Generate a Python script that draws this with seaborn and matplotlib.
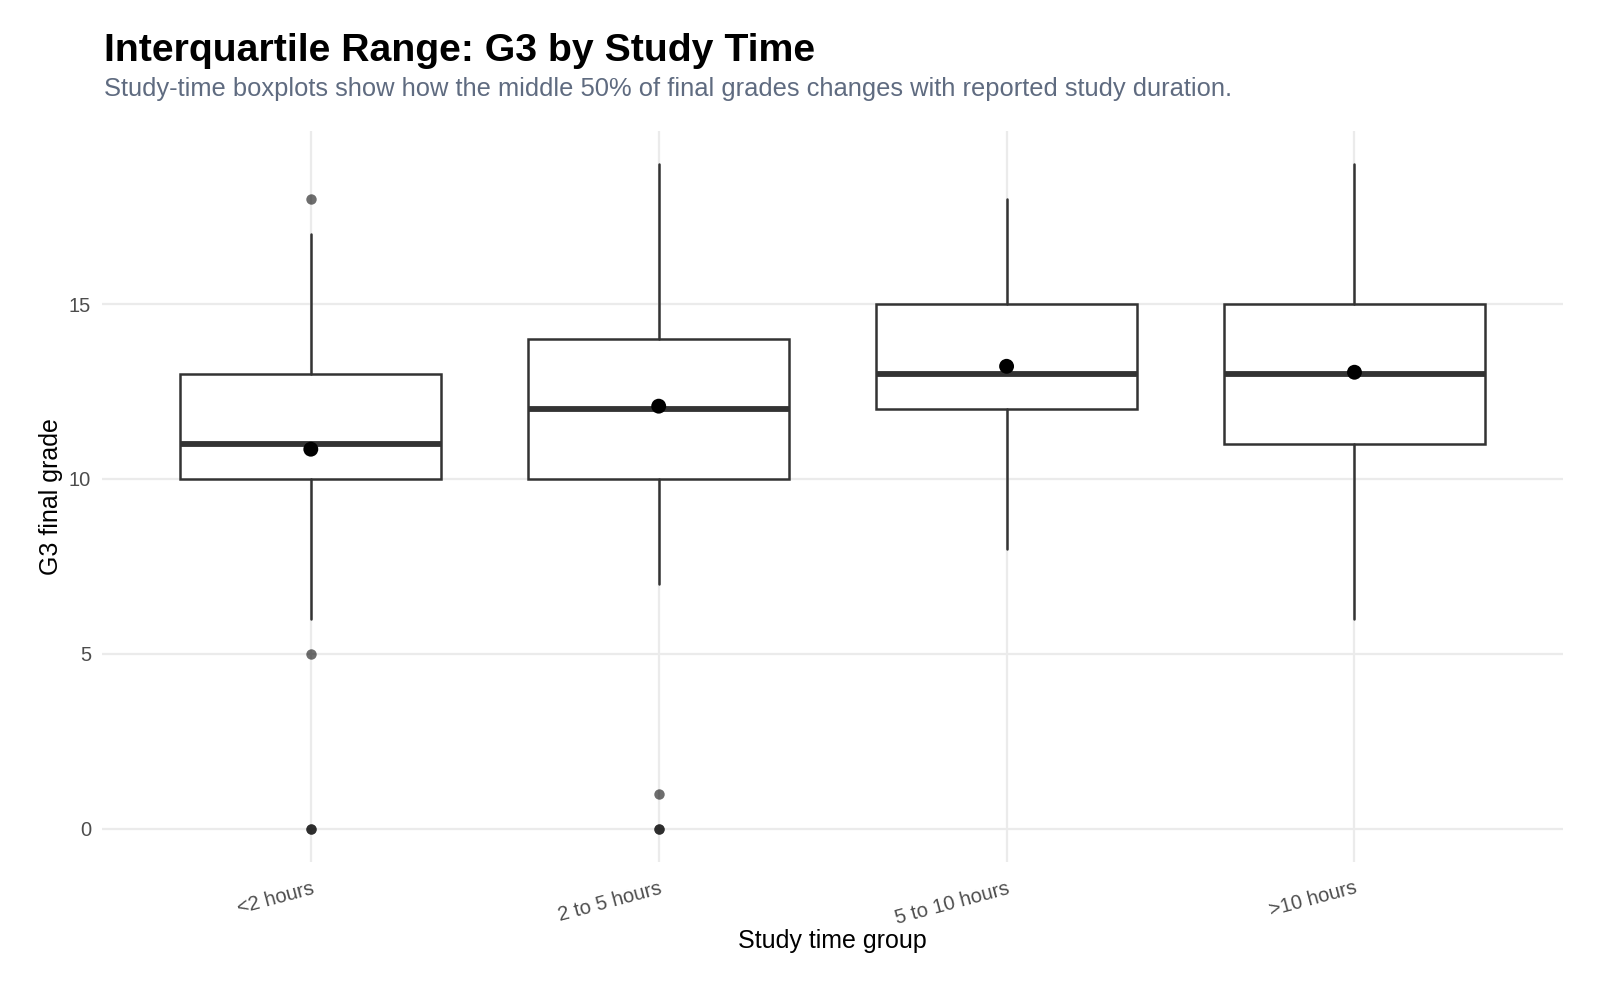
import numpy as np
import matplotlib
matplotlib.use("Agg")
import matplotlib.pyplot as plt
import seaborn as sns

# Box summary values
groups = ['<2 hours', '2 to 5 hours', '5 to 10 hours', '>10 hours']
whisker_low = [6, 7, 8, 6]
q1 = [10, 10, 12, 11]
medians = [11, 12, 13, 13]
q3 = [13, 14, 15, 15]
whisker_high = [17, 19, 18, 19]
outliers = [[18, 5, 0, 0], [1, 0, 0], [], []]
means = [10.85, 12.08, 13.22, 13.05]

sns.set_theme(style="whitegrid")
plt.rcParams['font.family'] = ['Liberation Sans', 'DejaVu Sans']

fig = plt.figure(figsize=(16, 9.84), dpi=100)
ax = fig.add_axes([0.0638, 0.124, 0.9132, 0.743])

stats = []
for i, g in enumerate(groups):
    stats.append({
        'label': g, 'whislo': whisker_low[i], 'q1': q1[i], 'med': medians[i],
        'q3': q3[i], 'whishi': whisker_high[i], 'fliers': outliers[i],
    })

pos = np.arange(len(groups))
line_col = '#333333'
ax.bxp(stats, positions=pos, widths=0.75, showcaps=False, patch_artist=True,
       boxprops=dict(facecolor='white', edgecolor=line_col, linewidth=1.8),
       whiskerprops=dict(color=line_col, linewidth=1.8),
       medianprops=dict(color=line_col, linewidth=4.2, solid_capstyle='butt'),
       flierprops=dict(marker='o', markerfacecolor='black', markeredgecolor='none',
                       markersize=7.5, alpha=0.57),
       zorder=2)

sns.scatterplot(x=pos, y=means, color='black', s=115, edgecolor='none', ax=ax, zorder=4)

ax.set_xlim(-0.6, 3.6)
ax.set_ylim(-0.95, 19.95)
ax.set_yticks([0, 5, 10, 15])
ax.set_xticks(pos)
ax.set_xticklabels(groups, rotation=15, ha='right', rotation_mode='anchor')
ax.tick_params(axis='both', colors='#4d4d4d', labelsize=14.5, length=0)
ax.tick_params(axis='y', pad=8)
ax.tick_params(axis='x', pad=12)
ax.grid(True, color='#ebebeb', linewidth=1.6)
ax.set_axisbelow(True)
for s in ax.spines.values():
    s.set_visible(False)

ax.set_xlabel('Study time group', fontsize=18, color='black', labelpad=1)
ax.set_ylabel('G3 final grade', fontsize=18, color='black', labelpad=4)

fig.text(0.065, 0.938, 'Interquartile Range: G3 by Study Time', fontsize=28.3,
         fontweight='bold', color='black', va='baseline', ha='left')
fig.text(0.065, 0.902, 'Study-time boxplots show how the middle 50% of final grades changes with reported study duration.',
         fontsize=18.4, color='#5f6b80', va='baseline', ha='left')

fig.savefig('out.png', dpi=100, facecolor='white')
